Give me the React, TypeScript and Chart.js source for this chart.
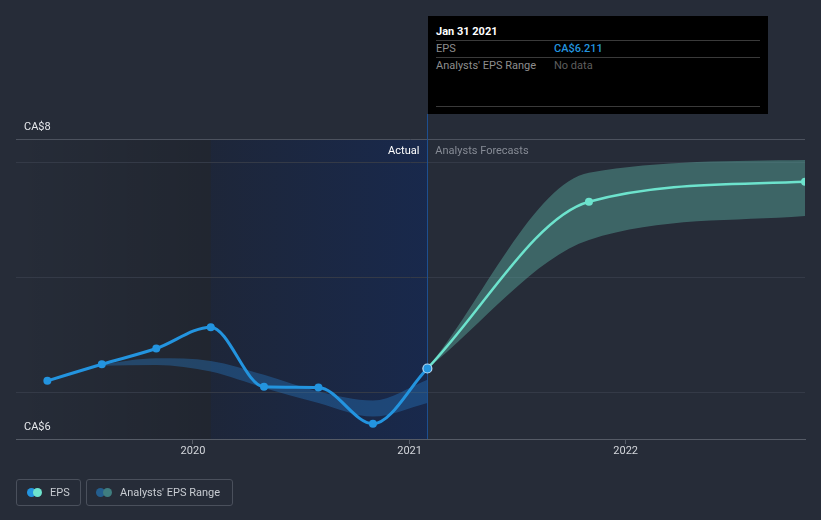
import React, { useEffect, useRef } from "react";
import { Chart, registerables } from "chart.js";
Chart.register(...registerables);

const epsDates = ["2019-04-30", "2019-07-31", "2019-10-31", "2020-01-31", "2020-04-30", "2020-07-31", "2020-10-31", "2021-01-31"];
const epsValues = [6.104, 6.248, 6.384, 6.569, 6.052, 6.046, 5.732, 6.211];

const rangeDates = ["2019-07-31", "2019-10-31", "2020-01-31", "2020-04-30", "2020-07-31", "2020-10-31", "2021-01-31"];
const rangeLow = [6.234, 6.242, 6.184, 6.043, 5.913, 5.795, 5.913];
const rangeHigh = [6.248, 6.3, 6.277, 6.156, 6.011, 5.933, 6.113];

const forecastDates = ["2021-01-31", "2021-10-31", "2022-10-31"];
const forecastValues = [6.211, 7.656, 7.829];
const forecastLow = [6.211, 7.325, 7.532];
const forecastHigh = [6.211, 7.907, 8.017];

const xTickYears = [2020, 2021, 2022];
const yGridValues = [6, 7, 8];
const yAxisMin = 5.6;
const yAxisMax = 8.2;
const yLabels = ["CA$8", "CA$6"];
const xMinDate = "2019-03-08";
const xMaxDate = "2022-10-31";
const pastYearStart = "2020-01-31";

const BG = "#262c38";
const FONT = "Roboto";
const EPS_BLUE = "#2394df";
const TEAL = "#6de3cd";

function pts(dates: string[], vals: number[]) {
  return dates.map((s, i) => ({ x: Date.parse(s), y: vals[i] }));
}

export default function App() {
  const ref = useRef<HTMLCanvasElement>(null);
  useEffect(() => {
    document.body.style.margin = "0";
    document.body.style.background = BG;
    const canvas = ref.current!;
    const splitX = Date.parse(epsDates[epsDates.length - 1]);
    const pastX = Date.parse(pastYearStart);
    const lastIdx = epsValues.length - 1;

    const bgPlugin = {
      id: "bgShade",
      beforeDraw(chart: any) {
        const { ctx, chartArea: a, scales } = chart;
        const x = scales.x;
        ctx.save();
        ctx.fillStyle = BG;
        ctx.fillRect(0, 0, chart.width, chart.height);
        const xp = x.getPixelForValue(pastX);
        const xs = x.getPixelForValue(splitX);
        const h = a.bottom - a.top;
        let g = ctx.createLinearGradient(a.left, 0, xp, 0);
        g.addColorStop(0, "rgba(0,0,0,0)");
        g.addColorStop(1, "rgba(0,0,0,0.14)");
        ctx.fillStyle = g;
        ctx.fillRect(a.left, a.top, xp - a.left, h);
        ctx.fillStyle = "rgba(0,0,0,0.14)";
        ctx.fillRect(xp, a.top, xs - xp, h);
        g = ctx.createLinearGradient(xp, 0, xs, 0);
        g.addColorStop(0, "rgba(15,45,110,0.15)");
        g.addColorStop(1, "rgba(15,45,110,0.45)");
        ctx.fillStyle = g;
        ctx.fillRect(xp, a.top, xs - xp, h);
        ctx.restore();
      },
      beforeDatasetsDraw(chart: any) {
        const { ctx, chartArea: a, scales } = chart;
        const xs = Math.round(scales.x.getPixelForValue(splitX)) + 0.5;
        ctx.save();
        ctx.strokeStyle = "#1d4f90";
        ctx.lineWidth = 1;
        ctx.beginPath();
        ctx.moveTo(xs, 114);
        ctx.lineTo(xs, a.bottom);
        ctx.stroke();
        ctx.restore();
      },
      afterDraw(chart: any) {
        const { ctx, chartArea: a, scales } = chart;
        const xs = scales.x.getPixelForValue(splitX);
        ctx.save();
        ctx.font = `11px ${FONT}`;
        ctx.textBaseline = "middle";
        ctx.textAlign = "right";
        ctx.fillStyle = "#ffffff";
        ctx.fillText("Actual", xs - 8, a.top + 12);
        ctx.textAlign = "left";
        ctx.fillStyle = "#868b95";
        ctx.fillText("Analysts Forecasts", xs + 8, a.top + 12);
        ctx.fillStyle = "#e6e8eb";
        ctx.fillText(yLabels[0], a.left + 8, a.top - 12);
        ctx.fillText(yLabels[1], a.left + 8, a.bottom - 12);
        ctx.restore();
      },
    };

    const chart = new Chart(canvas, {
      type: "line",
      data: {
        datasets: [
          {
            label: "EPS",
            data: pts(epsDates, epsValues),
            borderColor: EPS_BLUE,
            borderWidth: 3,
            pointRadius: epsValues.map((_, i) => (i === lastIdx ? 4.5 : 4)),
            pointBackgroundColor: EPS_BLUE,
            pointBorderColor: epsValues.map((_, i) => (i === lastIdx ? "#b5dcf7" : EPS_BLUE)),
            pointBorderWidth: epsValues.map((_, i) => (i === lastIdx ? 1.2 : 0)),
            cubicInterpolationMode: "monotone",
            fill: false,
          },
          {
            label: "Forecast",
            data: pts(forecastDates, forecastValues),
            borderColor: TEAL,
            borderWidth: 2.5,
            pointRadius: forecastValues.map((_, i) => (i === 0 ? 0 : 4)),
            pointBackgroundColor: TEAL,
            pointBorderWidth: 0,
            cubicInterpolationMode: "monotone",
            fill: false,
          },
          {
            label: "RangeLow",
            data: pts(rangeDates, rangeLow),
            borderWidth: 0,
            borderColor: "rgba(0,0,0,0)",
            pointRadius: 0,
            cubicInterpolationMode: "monotone",
            fill: false,
          },
          {
            label: "RangeHigh",
            data: pts(rangeDates, rangeHigh),
            borderWidth: 0,
            borderColor: "rgba(0,0,0,0)",
            backgroundColor: "rgba(40,130,210,0.35)",
            pointRadius: 0,
            cubicInterpolationMode: "monotone",
            fill: "-1",
          },
          {
            label: "FcLow",
            data: pts(forecastDates, forecastLow),
            borderWidth: 0,
            borderColor: "rgba(0,0,0,0)",
            pointRadius: 0,
            cubicInterpolationMode: "monotone",
            fill: false,
          },
          {
            label: "FcHigh",
            data: pts(forecastDates, forecastHigh),
            borderWidth: 0,
            borderColor: "rgba(0,0,0,0)",
            backgroundColor: "rgba(90,170,160,0.45)",
            pointRadius: 0,
            cubicInterpolationMode: "monotone",
            fill: "-1",
          },
        ],
      },
      options: {
        animation: false,
        responsive: false,
        maintainAspectRatio: false,
        layout: { padding: { left: 16, right: 16, top: 139, bottom: 51 } },
        plugins: { legend: { display: false }, tooltip: { enabled: false } },
        scales: {
          x: {
            type: "linear",
            min: Date.parse(xMinDate),
            max: Date.parse(xMaxDate),
            afterBuildTicks: (s: any) => {
              s.ticks = xTickYears.map((y) => ({ value: Date.UTC(y, 0, 1) }));
            },
            afterFit: (s: any) => {
              s.height = 30;
            },
            grid: { drawOnChartArea: false, drawTicks: true, tickLength: 5, color: "#555b66" },
            border: { color: "#555b66" },
            ticks: {
              callback: (v: any) => String(new Date(v).getUTCFullYear()),
              color: "#d3d6db",
              font: { family: FONT, size: 11 },
              padding: 1,
              maxRotation: 0,
              autoSkip: false,
            },
          },
          y: {
            min: yAxisMin,
            max: yAxisMax,
            afterBuildTicks: (s: any) => {
              s.ticks = [...yGridValues, yAxisMax].map((v) => ({ value: v }));
            },
            ticks: { display: false },
            grid: {
              drawTicks: false,
              color: (c: any) => (c.tick && c.tick.value > yAxisMax - 0.01 ? "#4c525e" : "#343a47"),
            },
            border: { display: false },
          },
        },
      },
      plugins: [bgPlugin],
    } as any);
    return () => chart.destroy();
  }, []);

  const txt = (s: string, left: number, cy: number, color: string, extra: any = {}) => (
    <span
      style={{
        position: "absolute",
        left,
        top: cy - 7,
        lineHeight: "14px",
        fontSize: 11,
        fontFamily: FONT,
        color,
        whiteSpace: "nowrap",
        ...extra,
      }}
    >
      {s}
    </span>
  );
  const hline = (y: number) => (
    <div style={{ position: "absolute", left: 436, top: y, width: 324, height: 1, background: "#3a3a3a" }} />
  );
  const dot = (cx: number, color: string) => (
    <div
      style={{
        position: "absolute",
        left: cx - 4.5,
        top: 488,
        width: 9,
        height: 9,
        borderRadius: "50%",
        background: color,
      }}
    />
  );

  return (
    <div style={{ position: "relative", width: 821, height: 520, background: BG, overflow: "hidden" }}>
      <canvas ref={ref} width={821} height={520} style={{ position: "absolute", left: 0, top: 0 }} />
      <div style={{ position: "absolute", left: 428, top: 16, width: 340, height: 98, background: "#000" }} />
      {txt("Jan 31 2021", 436, 31.5, "#ffffff", { fontWeight: "bold" })}
      {hline(40)}
      {txt("EPS", 436, 48.5, "#8e8e8e")}
      {txt("CA$" + epsValues[epsValues.length - 1].toFixed(3), 554, 48.5, EPS_BLUE, { fontWeight: 500 })}
      {hline(57)}
      {txt("Analysts' EPS Range", 436, 65.5, "#8e8e8e")}
      {txt("No data", 554, 65.5, "#5e5e5e")}
      {hline(106)}

      <div style={{ position: "absolute", left: 16, top: 479, width: 63, height: 25, border: "1px solid #4a505c", borderRadius: 3 }} />
      {dot(31.5, EPS_BLUE)}
      {dot(37.5, TEAL)}
      {txt("EPS", 50, 492.5, "#c8ccd2")}
      <div style={{ position: "absolute", left: 86, top: 479, width: 145, height: 25, border: "1px solid #4a505c", borderRadius: 3 }} />
      {dot(100.5, "#245e8e")}
      {dot(107, "#3f7d7f")}
      {txt("Analysts' EPS Range", 120, 492.5, "#c8ccd2")}
    </div>
  );
}
